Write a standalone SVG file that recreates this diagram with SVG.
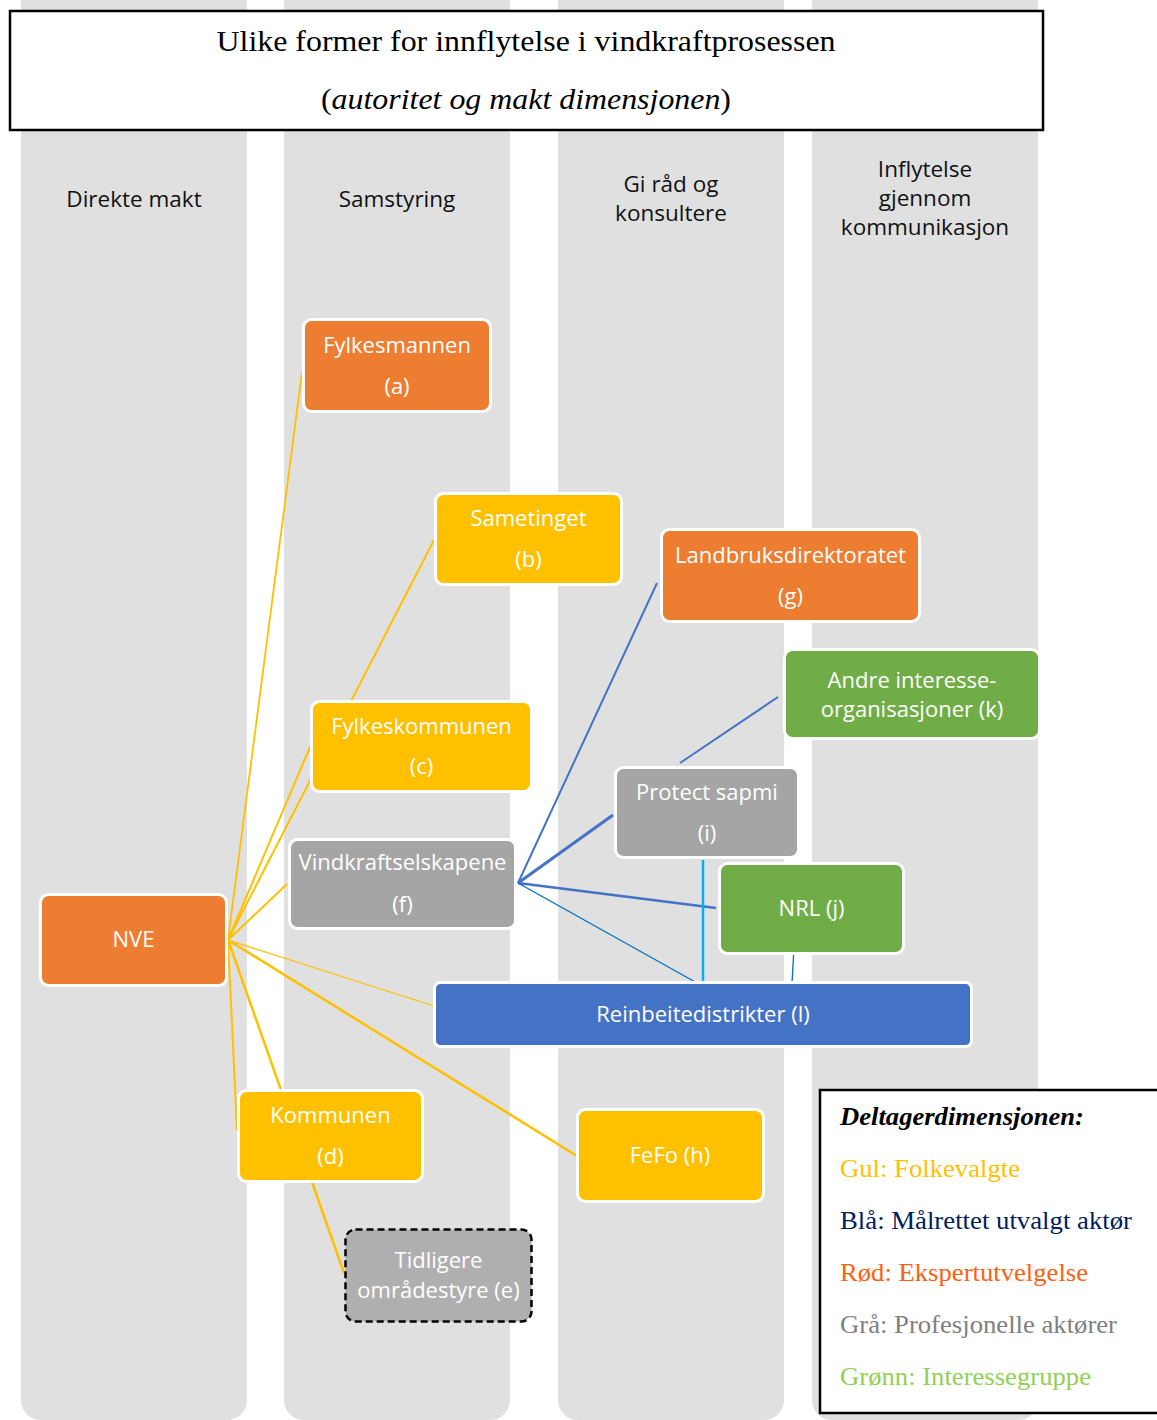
<svg xmlns="http://www.w3.org/2000/svg" width="1157" height="1420" viewBox="0 0 1157 1420">
<style>
.col{fill:#e0e0e0}
.hdr{font-family:"Open Sans","Liberation Sans",sans-serif;font-size:22.5px;fill:#111;text-anchor:middle}
.box rect{stroke:#fff;stroke-width:3}
.box text{font-family:"Open Sans","Liberation Sans",sans-serif;font-size:22px;fill:#fff;text-anchor:middle}
.or{fill:#ed7d31}.ye{fill:#ffc000}.gr{fill:#a5a5a5}.gn{fill:#70ad47}.bl{fill:#4472c4}
.y{stroke:#ffc000;fill:none}
.b{stroke:#4472c4;fill:none}
.title{font-family:"Liberation Serif","Times New Roman",serif;font-size:29px;fill:#000;text-anchor:middle}
.leg{font-family:"Liberation Serif","Times New Roman",serif;font-size:24.5px}
</style>
<g id="columns">
<rect class="col" x="21" y="-40" width="226" height="1460" rx="20"/>
<rect class="col" x="284" y="-40" width="226" height="1460" rx="20"/>
<rect class="col" x="558" y="-40" width="226" height="1460" rx="20"/>
<rect class="col" x="812" y="-40" width="226" height="1460" rx="20"/>
<text class="hdr" x="134" y="207">Direkte makt</text>
<text class="hdr" x="397" y="207">Samstyring</text>
<text class="hdr" x="671" y="192">Gi råd og</text>
<text class="hdr" x="671" y="221">konsultere</text>
<text class="hdr" x="925" y="177">Inflytelse</text>
<text class="hdr" x="925" y="206">gjennom</text>
<text class="hdr" x="925" y="235">kommunikasjon</text>
</g>
<g id="title">
<rect x="10" y="11" width="1033" height="119" fill="#fff" stroke="#000" stroke-width="2.5"/>
<text class="title" x="526" y="51" textLength="619" lengthAdjust="spacingAndGlyphs">Ulike former for innflytelse i vindkraftprosessen</text>
<text class="title" x="526" y="109" textLength="410" lengthAdjust="spacingAndGlyphs">(<tspan font-style="italic">autoritet og makt dimensjonen</tspan>)</text>
</g>
<g id="connectors">
<line class="y" x1="228" y1="940" x2="302" y2="372" stroke-width="1.8"/>
<line class="y" x1="228" y1="940" x2="434" y2="540" stroke-width="2"/>
<line class="y" x1="228" y1="940" x2="310" y2="747" stroke-width="2"/>
<line class="y" x1="228" y1="940" x2="287" y2="884" stroke-width="2"/>
<line class="y" x1="228" y1="940" x2="434" y2="1006" stroke-width="1.3"/>
<line class="y" x1="228" y1="940" x2="577" y2="1156" stroke-width="2.5"/>
<line class="y" x1="228" y1="940" x2="281" y2="1090" stroke-width="2.5"/>
<line class="y" x1="228" y1="940" x2="237" y2="1130" stroke-width="2"/>
<line class="y" x1="312" y1="1182" x2="344" y2="1273" stroke-width="2.5"/>
<line class="b" x1="518" y1="883" x2="657" y2="583" stroke-width="2"/>
<line class="b" x1="518" y1="883" x2="613" y2="815" stroke-width="3"/>
<line class="b" x1="518" y1="883" x2="716" y2="908" stroke-width="2.5"/>
<line x1="518" y1="883" x2="697" y2="983" stroke="#0070c0" stroke-width="1.3"/>
<line class="b" x1="778" y1="697" x2="680" y2="763" stroke-width="2"/>
<line x1="703" y1="860" x2="703" y2="983" stroke="#00b0f0" stroke-width="2.5"/>
<line x1="794" y1="948" x2="792" y2="983" stroke="#0070c0" stroke-width="1.3"/>
</g>
<g id="node-a" class="box"><rect class="or" x="303.5" y="319.5" width="187" height="92" rx="8"/><text x="397" y="353">Fylkesmannen</text><text x="397" y="394">(a)</text></g>
<g id="node-b" class="box"><rect class="ye" x="435.5" y="493.5" width="186" height="91" rx="8"/><text x="528.5" y="526">Sametinget</text><text x="528.5" y="567">(b)</text></g>
<g id="node-g" class="box"><rect class="or" x="661.5" y="529.5" width="258" height="92" rx="8"/><text x="790.5" y="563">Landbruksdirektoratet</text><text x="790.5" y="604">(g)</text></g>
<g id="node-k" class="box"><rect class="gn" x="784.5" y="649.5" width="255" height="89" rx="8"/><text x="912" y="688">Andre interesse-</text><text x="912" y="717">organisasjoner (k)</text></g>
<g id="node-c" class="box"><rect class="ye" x="311.5" y="701.5" width="220" height="90" rx="8"/><text x="421.5" y="734">Fylkeskommunen</text><text x="421.5" y="774">(c)</text></g>
<g id="node-i" class="box"><rect class="gr" x="615.5" y="767.5" width="183" height="90" rx="8"/><text x="707" y="800">Protect sapmi</text><text x="707" y="841">(i)</text></g>
<g id="node-f" class="box"><rect class="gr" x="289.5" y="839.5" width="226" height="89" rx="8"/><text x="402.5" y="870">Vindkraftselskapene</text><text x="402.5" y="912">(f)</text></g>
<g id="node-j" class="box"><rect class="gn" x="719.5" y="863.5" width="184" height="90" rx="8"/><text x="811.5" y="916">NRL (j)</text></g>
<g id="node-nve" class="box"><rect class="or" x="40.5" y="894.5" width="186" height="91" rx="8"/><text x="133.5" y="947">NVE</text></g>
<g id="node-l" class="box"><rect class="bl" x="434.5" y="982.5" width="537" height="64" rx="6"/><text x="703" y="1022">Reinbeitedistrikter (l)</text></g>
<g id="node-d" class="box"><rect class="ye" x="238.5" y="1090.5" width="184" height="91" rx="8"/><text x="330.5" y="1123">Kommunen</text><text x="330.5" y="1164">(d)</text></g>
<g id="node-h" class="box"><rect class="ye" x="577.5" y="1109.5" width="186" height="92" rx="8"/><text x="670" y="1163">FeFo (h)</text></g>
<g id="node-e" class="box"><rect x="345.5" y="1229.5" width="186" height="92" rx="10" fill="#afafaf" style="stroke:#000;stroke-width:2.5;stroke-dasharray:7 4"/><text x="438.5" y="1268">Tidligere</text><text x="438.5" y="1298">områdestyre (e)</text></g>
<g id="legend">
<rect x="820" y="1090" width="345" height="323" fill="#fff" stroke="#000" stroke-width="2.5"/>
<text class="leg" x="840" y="1125" font-weight="bold" font-style="italic" fill="#000" textLength="244" lengthAdjust="spacingAndGlyphs">Deltagerdimensjonen:</text>
<text class="leg" x="840" y="1177" fill="#ffc000" textLength="180" lengthAdjust="spacingAndGlyphs">Gul: Folkevalgte</text>
<text class="leg" x="840" y="1229" fill="#002060" textLength="292" lengthAdjust="spacingAndGlyphs">Blå: Målrettet utvalgt aktør</text>
<text class="leg" x="840" y="1281" fill="#ff6010" textLength="248" lengthAdjust="spacingAndGlyphs">Rød: Ekspertutvelgelse</text>
<text class="leg" x="840" y="1333" fill="#808080" textLength="277" lengthAdjust="spacingAndGlyphs">Grå: Profesjonelle aktører</text>
<text class="leg" x="840" y="1385" fill="#92d050" textLength="251" lengthAdjust="spacingAndGlyphs">Grønn: Interessegruppe</text>
</g>
</svg>
